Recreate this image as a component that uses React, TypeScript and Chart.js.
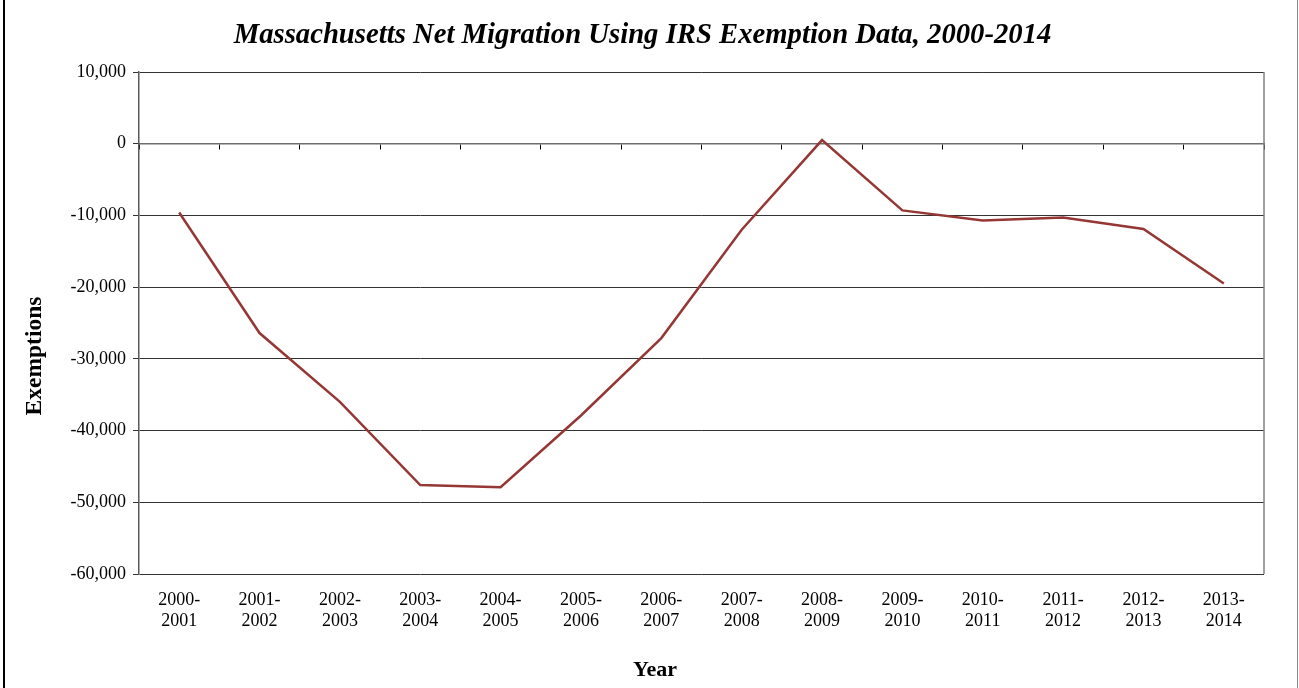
import React, { useEffect, useRef } from "react";
import { Chart, registerables } from "chart.js";

Chart.register(...registerables);

const categories: string[][] = [
  ["2000-", "2001"], ["2001-", "2002"], ["2002-", "2003"], ["2003-", "2004"],
  ["2004-", "2005"], ["2005-", "2006"], ["2006-", "2007"], ["2007-", "2008"],
  ["2008-", "2009"], ["2009-", "2010"], ["2010-", "2011"], ["2011-", "2012"],
  ["2012-", "2013"], ["2013-", "2014"],
];
const netMigration: number[] = [
  -9600, -26400, -36000, -47600, -47900, -37900, -27100, -12000, 500, -9300, -10700, -10300, -11900, -19500,
];
const yMin = -60000;
const yMax = 10000;
const yStep = 10000;
const titleText = "Massachusetts Net Migration Using IRS Exemption Data, 2000-2014";
const xTitle = "Year";
const yTitle = "Exemptions";

const FONT = '"Liberation Serif", "Times New Roman", serif';

const decor = {
  id: "decor",
  afterDraw(chart: any) {
    const { ctx, chartArea, width, height } = chart;
    ctx.save();
    ctx.strokeStyle = "#808080";
    ctx.lineWidth = 1.5;
    ctx.beginPath();
    ctx.moveTo(chartArea.right, chartArea.top);
    ctx.lineTo(chartArea.right, chartArea.bottom);
    ctx.stroke();

    ctx.fillStyle = "#000";
    ctx.textAlign = "center";

    // main title
    ctx.textBaseline = "alphabetic";
    ctx.font = `italic bold 28.7px ${FONT}`;
    ctx.fillText(titleText, 642.5, 43);

    ctx.textBaseline = "middle";
    ctx.font = `bold 22px ${FONT}`;
    ctx.fillText(xTitle, 655, height - 18);
    ctx.save();
    ctx.translate(35, 356);
    ctx.rotate(-Math.PI / 2);
    ctx.font = `bold 23.5px ${FONT}`;
    ctx.fillText(yTitle, 0, 0);
    ctx.restore();

    // outer frame
    ctx.fillStyle = "#000";
    ctx.fillRect(3, 0, 2, height);
    ctx.fillStyle = "#8a8a8a";
    ctx.fillRect(width - 2, 0, 1, height);
    ctx.restore();
  },
};

export default function App() {
  const ref = useRef<HTMLCanvasElement>(null);
  useEffect(() => {
    document.body.style.margin = "0";
    if (!ref.current) return;
    const chart = new Chart(ref.current, {
      type: "line",
      data: {
        labels: categories,
        datasets: [
          {
            data: netMigration,
            borderColor: "#953735",
            borderWidth: 2.5,
            pointRadius: 0,
            tension: 0,
            fill: false,
          },
        ],
      },
      options: {
        animation: false,
        responsive: false,
        layout: { padding: { left: 0, right: 35, top: 72, bottom: 0 } },
        plugins: {
          legend: { display: false },
          tooltip: { enabled: false },
          title: { display: false },
        },
        scales: {
          x: {
            type: "category",
            position: "bottom",
            offset: true,
            grid: { display: false, drawTicks: false, offset: true },
            border: { display: false },
            ticks: {
              color: "#000",
              font: { family: FONT, size: 18 },
              padding: 15,
              maxRotation: 0,
              autoSkip: false,
            },
            afterFit(scale: any) {
              scale.height = 114;
            },
          },
          x2: {
            type: "category",
            position: { y: 0 } as any,
            offset: true,
            grid: {
              display: true,
              drawOnChartArea: false,
              drawTicks: true,
              tickLength: 5,
              offset: true,
              color: "#000",
            },
            border: { display: true, color: "#6e6e6e", width: 1.5 },
            ticks: { display: false },
          },
          y: {
            position: "left",
            min: yMin,
            max: yMax,
            ticks: {
              stepSize: yStep,
              color: "#000",
              font: { family: FONT, size: 18 },
              padding: 7,
              callback: (v: any) => Number(v).toLocaleString("en-US"),
            },
            grid: {
              color: "#333",
              lineWidth: 1,
              tickLength: 6,
              drawTicks: true,
            },
            border: { display: true, color: "#5a5a5a", width: 1.5 },
            afterFit(scale: any) {
              scale.width = 139;
            },
          },
        },
      },
      plugins: [decor],
    });
    return () => chart.destroy();
  }, []);
  return (
    <div style={{ position: "fixed", left: 0, top: 0, width: 1299, height: 688, background: "#fff" }}>
      <canvas ref={ref} width={1299} height={688} style={{ display: "block" }} />
    </div>
  );
}
